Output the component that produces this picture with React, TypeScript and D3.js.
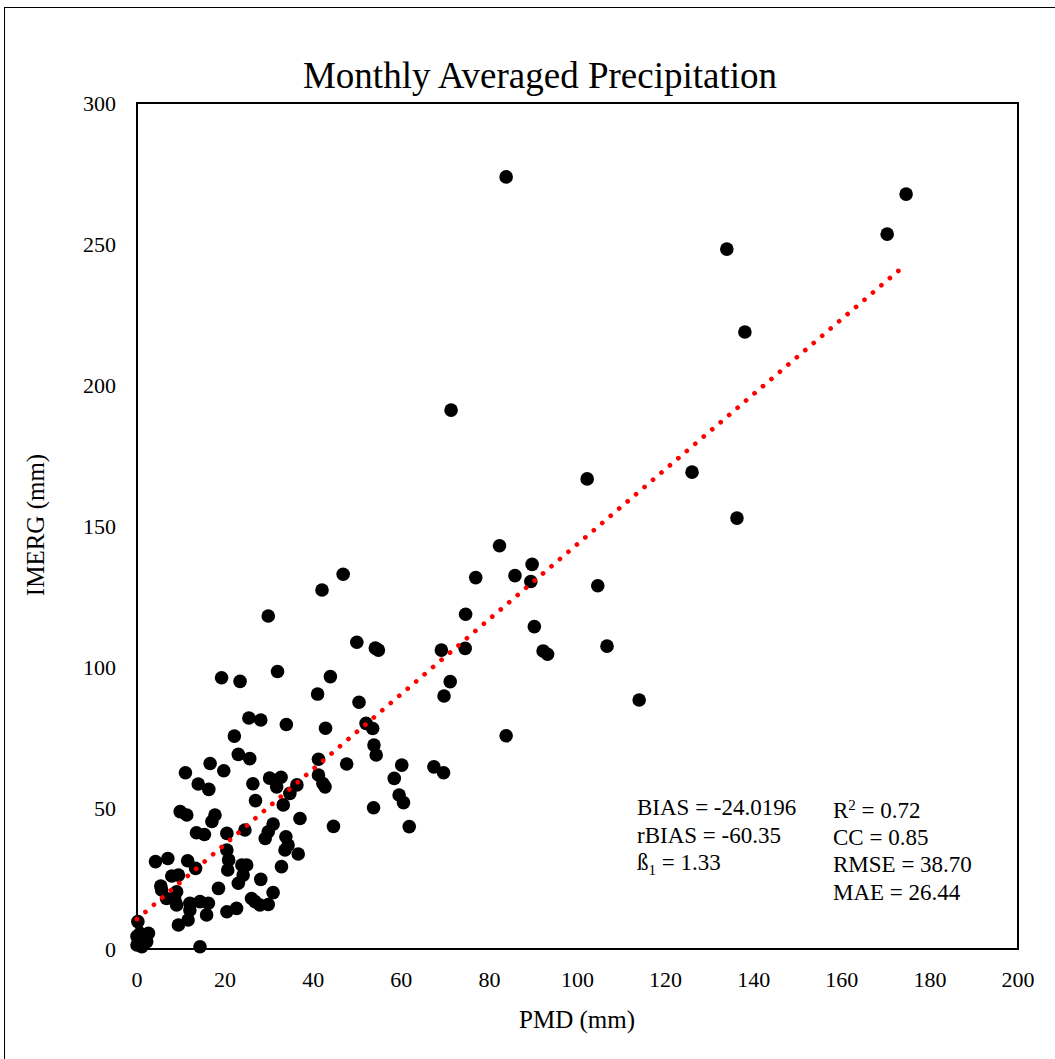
import React from "react";
import * as d3 from "d3";

const pmd: number[] = [
  83.8, 174.6, 170.3, 133.9, 138.0, 71.3, 102.2, 126.0, 136.2, 82.3,
  46.8, 89.7, 85.8, 76.9, 42.0, 89.4, 104.6, 29.8, 74.6, 90.2,
  49.9, 54.1, 54.8, 69.1, 74.5, 92.2, 93.2, 106.7, 31.9, 19.2,
  23.4, 43.9, 71.1, 41.0, 69.7, 114.0, 50.4, 25.4, 28.1, 33.9,
  52.0, 53.5, 42.8, 22.1, 83.8, 53.8, 54.3, 23.0, 25.6, 41.2,
  16.6, 47.6, 60.1, 67.4, 69.6, 11.0, 19.7, 41.2, 58.4, 30.1,
  32.7, 13.9, 16.3, 26.3, 31.7, 42.2, 42.7, 36.3, 34.7, 59.5,
  60.5, 26.9, 33.2, 53.7, 9.8, 11.3, 17.7, 17.0, 37.0, 44.6,
  61.8, 30.9, 24.5, 13.5, 15.3, 20.4, 29.8, 29.1, 33.8, 34.3,
  33.6, 36.6, 20.4, 20.8, 20.6, 4.2, 7.0, 11.5, 13.3, 23.8,
  24.9, 24.1, 23.0, 28.1, 32.8, 7.9, 9.4, 5.4, 5.6, 9.0,
  6.7, 8.6, 9.0, 18.5, 12.0, 12.0, 11.6, 14.3, 16.2, 15.8,
  9.4, 20.4, 22.6, 26.0, 26.8, 27.9, 29.8, 30.9, 14.3, 0.2,
  0.7, 2.6, 0.0, 1.8, 0.0, 1.1, 2.2, 0.4,
];

const imerg: number[] = [
  273.8, 267.7, 253.5, 248.2, 218.8, 191.1, 166.7, 169.1, 152.8, 143.0,
  132.9, 136.4, 132.4, 131.7, 127.3, 130.3, 128.8, 118.1, 118.7, 114.3,
  108.8, 106.7, 106.0, 106.0, 106.6, 105.7, 104.5, 107.4, 98.4, 96.2,
  94.9, 96.6, 94.8, 90.4, 89.7, 88.3, 87.5, 81.9, 81.2, 79.6,
  80.0, 78.2, 78.3, 75.5, 75.6, 72.3, 68.8, 69.0, 67.5, 67.3,
  65.8, 65.6, 65.2, 64.6, 62.5, 62.5, 63.2, 61.7, 60.5, 60.6,
  60.9, 58.5, 56.6, 58.6, 57.5, 58.7, 57.5, 58.2, 55.2, 54.6,
  51.9, 52.6, 51.1, 50.1, 48.7, 47.5, 47.5, 45.2, 46.3, 43.5,
  43.4, 44.3, 42.2, 41.2, 40.6, 41.0, 41.6, 39.2, 39.8, 36.9,
  35.1, 33.7, 35.1, 31.6, 28.0, 31.0, 32.1, 31.3, 28.6, 29.8,
  29.8, 26.2, 23.3, 24.7, 29.2, 25.9, 26.2, 22.3, 20.9, 20.3,
  17.9, 17.4, 15.6, 21.5, 16.2, 13.8, 10.3, 16.8, 16.2, 12.1,
  8.5, 13.2, 14.4, 17.9, 16.8, 15.6, 15.8, 20.0, 0.8, 9.7,
  5.6, 5.6, 4.5, 3.2, 1.4, 0.8, 2.6, 2.5,
];

const xTicks: number[] = [0, 20, 40, 60, 80, 100, 120, 140, 160, 180, 200];
const yTicks: number[] = [0, 50, 100, 150, 200, 250, 300];

const trendSlope = 1.33;
const trendIntercept = 10.6;

const statsLeft: string[] = ["BIAS = -24.0196", "rBIAS = -60.35"];
const statsRight: string[] = ["CC = 0.85", "RMSE = 38.70", "MAE = 26.44"];

const FONT = "'Liberation Serif', 'Times New Roman', serif";

export default function App() {
  const W = 1055;
  const H = 1059;
  const left = 137, right = 1018, top = 103, bottom = 949;
  const x = d3.scaleLinear().domain([0, 200]).range([left, right]);
  const y = d3.scaleLinear().domain([0, 300]).range([bottom, top]);

  const pts = pmd.map((v, i) => [v, imerg[i]] as [number, number]);
  const xMin = d3.min(pmd) as number;
  const xMax = d3.max(pmd) as number;
  const line = d3
    .line<number>()
    .x((d) => x(d))
    .y((d) => y(trendSlope * d + trendIntercept));
  const trendPath = line([xMin, xMax]) || "";

  return (
    <svg
      width={W}
      height={H}
      style={{ position: "absolute", left: 0, top: 0, background: "#fff" }}
      fontFamily={FONT}
    >
      <rect x={0} y={0} width={W} height={H} fill="#fff" />
      <rect x={4.5} y={7.5} width={W + 20} height={H + 20} fill="none" stroke="#000" strokeWidth={1} />
      <text x={540} y={88} fontSize={37} textAnchor="middle" fill="#000">
        Monthly Averaged Precipitation
      </text>
      <rect
        x={left}
        y={top}
        width={right - left}
        height={bottom - top}
        fill="none"
        stroke="#000"
        strokeWidth={2}
      />
      {yTicks.map((t) => (
        <text key={"y" + t} x={116} y={y(t)} dy="0.35em" fontSize={22} textAnchor="end" fill="#000">
          {t}
        </text>
      ))}
      {xTicks.map((t) => (
        <text key={"x" + t} x={x(t)} y={987} fontSize={22} textAnchor="middle" fill="#000">
          {t}
        </text>
      ))}
      <text x={577} y={1028} fontSize={25} textAnchor="middle" fill="#000">
        PMD (mm)
      </text>
      <text transform="translate(44,525) rotate(-90)" fontSize={25} textAnchor="middle" fill="#000">
        IMERG (mm)
      </text>
      <g>
        {pts.map((p, i) => (
          <circle key={i} cx={x(p[0])} cy={y(p[1])} r={6.8} fill="#000" />
        ))}
      </g>
      <path
        d={trendPath}
        fill="none"
        stroke="#ff0000"
        strokeWidth={4.7}
        strokeLinecap="round"
        strokeDasharray="0.01 11.1"
      />
      <g fontSize={23} fill="#000">
        {statsLeft.map((s, i) => (
          <text key={"l" + i} x={637} y={815 + i * 27.5}>
            {s}
          </text>
        ))}
        <text x={637} y={870}>
          ß<tspan fontSize={15} dy={5}>1</tspan>
          <tspan dy={-5}> = 1.33</tspan>
        </text>
        <text x={833} y={818}>
          R<tspan fontSize={15} dy={-8}>2</tspan>
          <tspan dy={8}> = 0.72</tspan>
        </text>
        {statsRight.map((s, i) => (
          <text key={"r" + i} x={833} y={845 + i * 27.4}>
            {s}
          </text>
        ))}
      </g>
    </svg>
  );
}
